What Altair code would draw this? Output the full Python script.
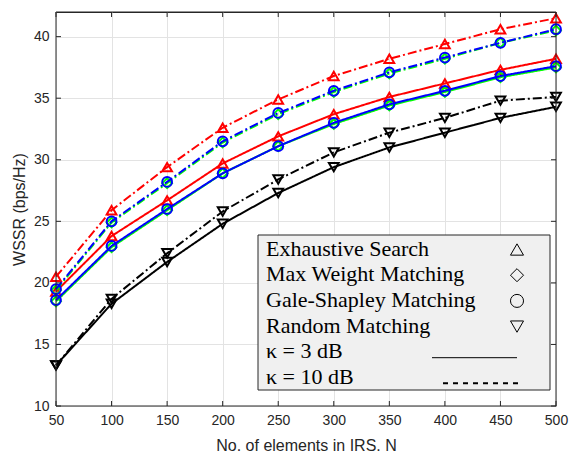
import altair as alt
import pandas as pd

N = [50, 100, 150, 200, 250, 300, 350, 400, 450, 500]

# kappa = 3 dB
es_3 = [19.3, 23.8, 26.7, 29.7, 31.9, 33.7, 35.1, 36.2, 37.3, 38.2]
mw_3 = [18.5, 22.9, 25.9, 28.9, 31.1, 32.9, 34.4, 35.5, 36.7, 37.5]
gs_3 = [18.6, 23.0, 26.0, 28.9, 31.1, 33.0, 34.5, 35.6, 36.8, 37.6]
rm_3 = [13.3, 18.3, 21.7, 24.8, 27.3, 29.4, 31.0, 32.2, 33.4, 34.3]

# kappa = 10 dB
es_10 = [20.5, 25.9, 29.4, 32.6, 34.9, 36.8, 38.2, 39.4, 40.6, 41.5]
mw_10 = [19.4, 24.9, 28.1, 31.4, 33.7, 35.5, 37.0, 38.2, 39.5, 40.5]
gs_10 = [19.5, 25.0, 28.2, 31.5, 33.8, 35.6, 37.1, 38.3, 39.5, 40.6]
rm_10 = [13.3, 18.7, 22.4, 25.8, 28.4, 30.6, 32.2, 33.4, 34.8, 35.1]

methods = ["Exhaustive Search", "Max Weight Matching", "Gale-Shapley Matching", "Random Matching"]
colors = ["#ff0000", "#00ff00", "#0000ff", "#000000"]
shapes = ["triangle-up", "diamond", "circle", "triangle-down"]
series3 = [es_3, mw_3, gs_3, rm_3]
series10 = [es_10, mw_10, gs_10, rm_10]

legend_labels = ["Exhaustive Search", "Max Weight Matching", "Gale-Shapley Matching",
                 "Random Matching", "κ = 3 dB", "κ = 10 dB"]
x_ticks = [50, 100, 150, 200, 250, 300, 350, 400, 450, 500]
y_ticks = [10, 15, 20, 25, 30, 35, 40]

W, H = 500, 394
XT = "No. of elements in IRS. N"
YT = "WSSR (bps/Hz)"

rows = []
for m, s3, s10 in zip(methods, series3, series10):
    for n, v in zip(N, s3):
        rows.append({"N": n, "WSSR": v, "method": m, "kappa": "3 dB"})
    for n, v in zip(N, s10):
        rows.append({"N": n, "WSSR": v, "method": m, "kappa": "10 dB"})
df = pd.DataFrame(rows)

xscale = alt.Scale(domain=[50, 500], nice=False, zero=False)
yscale = alt.Scale(domain=[10, 42], nice=False, zero=False)
dash = alt.StrokeDash("kappa:N", scale=alt.Scale(domain=["3 dB", "10 dB"], range=[[1, 0], [9, 3, 2, 3]]), legend=None)

xax = alt.Axis(values=x_ticks, grid=True, domain=False, ticks=False, labelPadding=7, labelFlush=False,
               titleX=W / 2, titleY=39, titleBaseline="middle", titleAlign="center")
yax = alt.Axis(values=y_ticks, grid=True, domain=False, ticks=False, labelPadding=7, labelFlush=False,
               titleX=-37, titleY=H / 2, titleBaseline="middle", titleAlign="center", titleAngle=270)

layers = []
for i, (m, c, sh) in enumerate(zip(methods, colors, shapes)):
    base = alt.Chart(df).transform_filter(alt.datum.method == m)
    enc_x = alt.X("N:Q", scale=xscale, axis=xax, title=XT)
    enc_y = alt.Y("WSSR:Q", scale=yscale, axis=yax, title=YT)
    line = base.mark_line(strokeWidth=2, color=c).encode(x=enc_x, y=enc_y, strokeDash=dash, detail="kappa:N")
    pts = base.mark_point(filled=False, strokeWidth=2, size=95, color=c, shape=sh, opacity=1).encode(
        x=enc_x, y=enc_y)
    layers += [line, pts]

# inward ticks (MATLAB style)
xt = pd.DataFrame({"N": x_ticks})
yt = pd.DataFrame({"WSSR": y_ticks})
tick_col = "#262626"
for y0, y1 in [(H, H - 5), (0, 5)]:
    layers.append(alt.Chart(xt).mark_rule(color=tick_col, strokeWidth=1).encode(
        x=alt.X("N:Q", scale=xscale, axis=xax, title=XT), y=alt.value(y0), y2=alt.value(y1)))
for x0, x1 in [(0, 5), (W, W - 5)]:
    layers.append(alt.Chart(yt).mark_rule(color=tick_col, strokeWidth=1).encode(
        y=alt.Y("WSSR:Q", scale=yscale, axis=yax, title=YT), x=alt.value(x0), x2=alt.value(x1)))

# legend box
one = pd.DataFrame({"a": [0]})
layers.append(alt.Chart(one).mark_rect(fill="#f0f0f0", stroke="#262626", strokeWidth=1).encode(
    x=alt.value(202), x2=alt.value(494), y=alt.value(223), y2=alt.value(378)))
row_y = [236.5, 262.2, 287.9, 313.6, 339.3, 365.0]
for lab, yy in zip(legend_labels, row_y):
    layers.append(alt.Chart(pd.DataFrame({"t": [lab]})).mark_text(
        align="left", baseline="middle", font="Liberation Serif", fontSize=22, color="#000000").encode(
        text="t:N", x=alt.value(210), y=alt.value(yy)))
for sh, yy in zip(shapes, row_y[:4]):
    layers.append(alt.Chart(one).mark_point(filled=False, shape=sh, size=170, strokeWidth=1,
                                            color="#000000", opacity=1).encode(
        x=alt.value(461), y=alt.value(yy + 1)))
layers.append(alt.Chart(one).mark_rule(color="#000000", strokeWidth=1).encode(
    x=alt.value(376), x2=alt.value(461), y=alt.value(345.7)))
layers.append(alt.Chart(one).mark_rule(color="#000000", strokeWidth=2, strokeDash=[5, 5]).encode(
    x=alt.value(387), x2=alt.value(464), y=alt.value(371.3)))
# plot box
layers.append(alt.Chart(one).mark_rect(fill=None, fillOpacity=0, stroke="#262626", strokeWidth=1).encode(
    x=alt.value(0), x2=alt.value(W), y=alt.value(0), y2=alt.value(H)))

chart = alt.layer(*layers).properties(
    width=W, height=H,
    background="white",
    autosize=alt.AutoSizeParams(type="none"),
    padding={"left": 56, "top": 12, "right": 13, "bottom": 46},
).configure_view(stroke="#262626", strokeWidth=1).configure_axis(
    labelFont="Liberation Sans", titleFont="Liberation Sans", labelFontSize=14, titleFontSize=16,
    titleFontWeight="normal", labelColor="#262626", titleColor="#262626",
    gridColor="#e3e3e3", gridWidth=1,
)

chart.save("out.html", embed_options={"renderer": "svg", "actions": False})
